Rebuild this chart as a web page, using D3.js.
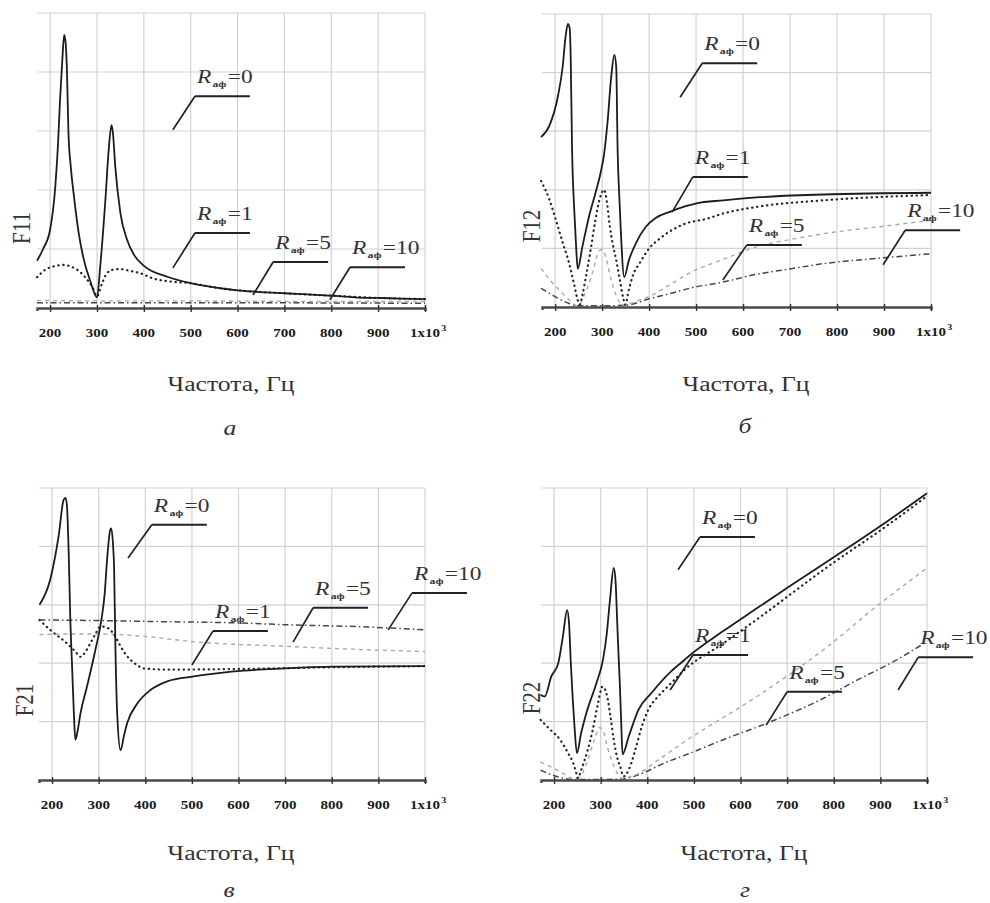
<!DOCTYPE html>
<html><head><meta charset="utf-8">
<script src="https://cdn.jsdelivr.net/npm/d3@7"></script>
<style>body{margin:0;background:#fff} svg{display:block}</style>
</head><body>
<svg id="c" width="990" height="903"></svg>
<script>
// ---------------- data ----------------
const xTicks = [200,300,400,500,600,700,800,900,1000];
const tickLabels = ["200","300","400","500","600","700","800","900","1x10"];
const yGrid = [1,2,3,4,5];
const resistances = ["0","1","5","10"];
const panelLetters = ["а","б","в","г"];
const yTitles = ["F11","F12","F21","F22"];
const xTitle = "Частота, Гц";

// F11
const f11_r0 = [[172,0.8],[185,1.0],[200,1.33],[211,2.05],[217,2.8],[221,3.5],[226,4.2],[230,4.63],[233,4.5],[236,4.0],[239,3.0],[244,2.4],[250,1.95],[261,1.27],[271,0.85],[286,0.45],[300,0.18],[307,0.71],[318,1.84],[325,2.68],[331,3.1],[334,2.97],[339,2.4],[350,1.61],[364,1.16],[379,0.9],[401,0.71],[450,0.53],[500,0.42],[550,0.35],[600,0.3],[650,0.27],[700,0.25],[750,0.23],[800,0.21],[850,0.18],[900,0.17],[950,0.16],[1000,0.15]];
const f11_r1 = [[172,0.52],[190,0.65],[210,0.71],[228,0.73],[245,0.7],[264,0.61],[280,0.47],[290,0.36],[300,0.2],[310,0.4],[321,0.59],[335,0.65],[350,0.66],[370,0.63],[392,0.59],[420,0.5],[456,0.45],[500,0.42],[550,0.35],[600,0.3],[700,0.25],[800,0.21],[900,0.17],[1000,0.15]];
const f11_r5 = [[172,0.13],[300,0.12],[500,0.12],[800,0.11],[1000,0.11]];
const f11_r10 = [[172,0.09],[500,0.09],[1000,0.08]];

// F12
const f12_r0 = [[170,2.9],[188,3.1],[206,3.6],[216,4.1],[222,4.6],[227,4.83],[231,4.75],[233,4.3],[236,2.7],[241,1.6],[245,0.97],[248,0.65],[258,1.03],[272,1.54],[286,1.95],[297,2.3],[304,2.6],[312,3.2],[319,3.9],[326,4.3],[330,4.1],[333,2.67],[337,1.8],[340,1.26],[347,0.51],[357,0.8],[372,1.09],[393,1.37],[414,1.52],[443,1.62],[478,1.72],[501,1.77],[558,1.82],[629,1.87],[771,1.92],[1000,1.95]];
const f12_r1 = [[170,2.15],[187,1.85],[201,1.5],[216,1.1],[230,0.74],[240,0.4],[248,0.12],[252,0.04],[258,0.2],[265,0.5],[275,0.95],[285,1.45],[295,1.85],[304,2.0],[310,1.8],[316,1.4],[322,1.1],[330,0.8],[338,0.45],[345,0.15],[349,0.04],[357,0.3],[366,0.55],[380,0.75],[400,1.0],[420,1.15],[440,1.27],[480,1.43],[520,1.5],[560,1.6],[630,1.71],[770,1.82],[1000,1.91]];
const f12_r5 = [[170,0.66],[190,0.45],[210,0.28],[230,0.12],[248,0.02],[262,0.2],[280,0.6],[293,0.95],[300,0.98],[308,0.85],[318,0.5],[330,0.2],[345,0.02],[360,0.06],[380,0.12],[400,0.18],[440,0.36],[486,0.58],[560,0.82],[630,1.03],[700,1.15],[771,1.25],[900,1.38],[1000,1.48]];
const f12_r10 = [[170,0.32],[195,0.2],[230,0.06],[250,0.02],[300,0.02],[350,0.03],[400,0.14],[450,0.24],[486,0.32],[560,0.43],[630,0.56],[700,0.65],[771,0.74],[900,0.84],[1000,0.91]];

// F21
const f21_r0 = [[173,3.0],[196,3.43],[214,4.17],[225,4.8],[229,4.83],[232,4.69],[236,3.8],[239,2.8],[243,1.94],[247,1.1],[250,0.69],[255,0.85],[261,1.14],[275,1.6],[293,2.23],[307,2.8],[313,3.2],[318,3.77],[325,4.29],[327,4.31],[331,4.0],[333,3.66],[336,2.23],[340,1.09],[347,0.51],[354,0.75],[361,0.97],[383,1.31],[411,1.54],[447,1.69],[501,1.77],[590,1.86],[698,1.91],[805,1.94],[1000,1.95]];
const f21_r1 = [[173,2.74],[196,2.57],[215,2.45],[232,2.34],[250,2.2],[261,2.11],[272,2.2],[282,2.34],[293,2.5],[304,2.63],[315,2.62],[325,2.57],[336,2.45],[347,2.29],[358,2.15],[368,2.06],[382,1.97],[397,1.91],[447,1.89],[590,1.9],[800,1.93],[1000,1.95]];
const f21_r5 = [[173,2.49],[250,2.5],[300,2.5],[397,2.46],[501,2.37],[698,2.29],[877,2.23],[1000,2.2]];
const f21_r10 = [[173,2.74],[300,2.73],[447,2.71],[600,2.69],[698,2.66],[877,2.62],[1000,2.57]];

// F22
const f22_r0 = [[171,1.46],[180,1.43],[194,1.77],[209,2.0],[219,2.46],[228,2.91],[232,2.7],[236,2.0],[240,1.4],[244,0.9],[249,0.46],[258,0.8],[269,1.14],[291,1.66],[305,2.06],[313,2.5],[320,3.09],[328,3.63],[332,3.4],[335,2.8],[338,2.2],[341,1.66],[344,1.0],[347,0.44],[360,0.74],[381,1.2],[409,1.49],[451,1.86],[479,2.05],[492,2.14],[563,2.55],[635,2.94],[706,3.32],[778,3.7],[850,4.08],[922,4.47],[1000,4.91]];
const f22_r1 = [[171,1.03],[192,0.86],[213,0.69],[230,0.46],[241,0.29],[248,0.11],[251,0.03],[258,0.17],[272,0.51],[283,0.86],[293,1.26],[304,1.6],[314,1.43],[321,1.09],[328,0.69],[335,0.4],[342,0.23],[349,0.06],[360,0.17],[374,0.51],[388,0.91],[402,1.2],[423,1.43],[444,1.6],[465,1.77],[479,1.88],[563,2.34],[635,2.75],[778,3.6],[922,4.4],[1000,4.86]];
const f22_r5 = [[171,0.31],[192,0.23],[220,0.11],[241,0.03],[255,0.05],[270,0.3],[285,0.65],[298,0.9],[305,0.85],[315,0.55],[328,0.25],[345,0.03],[365,0.06],[381,0.11],[423,0.34],[479,0.65],[635,1.43],[778,2.23],[896,3.0],[1000,3.63]];
const f22_r10 = [[171,0.17],[206,0.06],[241,0.01],[300,0.01],[350,0.02],[381,0.09],[437,0.29],[492,0.46],[563,0.69],[656,0.97],[778,1.4],[850,1.71],[922,2.0],[1000,2.37]];

// annotation anchors (tip, elbow) in data coordinates, one per resistance
const ann11 = [[[462,3.02],[509,3.59]],[[462,0.68],[509,1.27]],[[633,0.22],[676,0.78]],[[797,0.14],[840,0.69]]];
const ann12 = [[[466,3.58],[513,4.16]],[[449,1.62],[493,2.22]],[[557,0.46],[608,1.06]],[[898,0.72],[945,1.31]]];
const ann21 = [[[363,3.8],[414,4.37]],[[500,1.97],[545,2.55]],[[717,2.36],[760,2.95]],[[921,2.57],[972,3.2]]];
const ann22 = [[[466,3.6],[513,4.16]],[[449,1.54],[498,2.14]],[[655,0.94],[700,1.51]],[[938,1.54],[981,2.1]]];

// ---------------- layout / style ----------------
const panels = [
  {series:[f11_r0,f11_r1,f11_r5,f11_r10], ann:ann11, box:{l:37,r:425,t:13,b:308}, ylab:[30,228], title:[231,391], letter:[230,435]},
  {series:[f12_r0,f12_r1,f12_r5,f12_r10], ann:ann12, box:{l:542,r:931,t:14,b:307}, ylab:[540,226], title:[746,391], letter:[745,433]},
  {series:[f21_r0,f21_r1,f21_r5,f21_r10], ann:ann21, box:{l:39,r:425,t:488,b:780}, ylab:[33,700], title:[231,860], letter:[229,897]},
  {series:[f22_r0,f22_r1,f22_r5,f22_r10], ann:ann22, box:{l:541,r:927,t:488,b:780}, ylab:[540,698], title:[744,860], letter:[745,897]}
];
const styles = [
  {stroke:"#1c1c1c", width:1.8, dash:null, cap:"butt"},
  {stroke:"#262626", width:2.2, dash:"0.4,4.6", cap:"round"},
  {stroke:"#a8a8a8", width:1.4, dash:"4,4", cap:"butt"},
  {stroke:"#474747", width:1.5, dash:"6,3,1.5,3", cap:"butt"}
];
const SERIF = "'Liberation Serif','Times New Roman',serif";
const SX = 1.28;

const svg = d3.select("#c");
svg.append("rect").attr("width",990).attr("height",903).attr("fill","#fff");

panels.forEach((p, pi) => {
  const b = p.box;
  const x = d3.scaleLinear().domain([172,1000]).range([b.l,b.r]);
  const y = d3.scaleLinear().domain([0,5]).range([b.b,b.t]);
  const g = svg.append("g");

  // grid
  g.append("g").selectAll("line").data(xTicks).join("line")
    .attr("x1",d=>x(d)).attr("x2",d=>x(d)).attr("y1",y(0)).attr("y2",y(5))
    .attr("stroke","#d2d2d2").attr("stroke-width",1.2);
  g.append("g").selectAll("line").data(yGrid).join("line")
    .attr("x1",x.range()[0]).attr("x2",x.range()[1]).attr("y1",d=>y(d)).attr("y2",d=>y(d))
    .attr("stroke","#d2d2d2").attr("stroke-width",1.2);

  // curves (drawn back to front)
  const line = d3.line().x(d=>x(d[0])).y(d=>y(d[1])).curve(d3.curveMonotoneX);
  [3,2,1,0].forEach(si => {
    const s = styles[si];
    g.append("path").attr("d", line(p.series[si]))
      .attr("fill","none").attr("stroke",s.stroke).attr("stroke-width",s.width)
      .attr("stroke-dasharray",s.dash).attr("stroke-linecap",s.cap).attr("stroke-linejoin","round");
  });

  // x axis
  const ax = g.append("g").attr("transform",`translate(0,${y(0)})`)
    .call(d3.axisBottom(x).tickValues(xTicks).tickSizeOuter(0).tickSize(3).tickFormat(""));
  ax.select(".domain").attr("stroke","#4a4a4a").attr("stroke-width",2.4);
  ax.selectAll(".tick line").attr("y1",-3).attr("y2",4).attr("stroke","#333").attr("stroke-width",1.4);

  // tick labels
  xTicks.forEach((t, i) => {
    const tg = g.append("g").attr("transform",`translate(${x(t)},${y(0)+29}) scale(1.25,1)`);
    tg.append("text").attr("text-anchor","middle").attr("font-family",SERIF)
      .attr("font-weight","bold").attr("font-size",12).attr("fill","#1a1a1a").text(tickLabels[i]);
    if (i === xTicks.length-1) {
      tg.append("text").attr("x",13).attr("y",-6).attr("font-family",SERIF)
        .attr("font-weight","bold").attr("font-size",8).attr("fill","#1a1a1a").text("3");
    }
  });

  // y title
  g.append("text").attr("transform",`translate(${p.ylab[0]},${p.ylab[1]}) scale(1.2,1) rotate(-90)`)
    .attr("text-anchor","middle").attr("font-family",SERIF).attr("font-size",21).attr("fill","#333")
    .text(yTitles[pi]);

  // x title and panel letter
  g.append("text").attr("transform",`translate(${p.title[0]},${p.title[1]}) scale(${SX},1)`)
    .attr("text-anchor","middle").attr("font-family",SERIF).attr("font-size",20).attr("fill","#333").text(xTitle);
  g.append("text").attr("transform",`translate(${p.letter[0]},${p.letter[1]}) scale(${SX},1)`)
    .attr("text-anchor","middle").attr("font-family",SERIF).attr("font-style","italic")
    .attr("font-size",20).attr("fill","#333").text(panelLetters[pi]);

  // annotations
  p.ann.forEach((a, ai) => {
    const tx = x(a[0][0]), ty = y(a[0][1]), ex = x(a[1][0]), ey = y(a[1][1]);
    g.append("line").attr("x1",tx).attr("y1",ty).attr("x2",ex).attr("y2",ey)
      .attr("stroke","#222").attr("stroke-width",1.7);
    g.append("line").attr("x1",ex).attr("y1",ey).attr("x2",ex+55).attr("y2",ey)
      .attr("stroke","#222").attr("stroke-width",2);
    const t = g.append("text").attr("transform",`translate(${ex+2},${ey-13}) scale(1.3,1)`)
      .attr("font-family",SERIF).attr("font-size",18).attr("fill","#333");
    t.append("tspan").attr("font-style","italic").text("R");
    t.append("tspan").attr("font-size",9).attr("font-weight","bold").attr("dy",4).attr("dx",1).text("аф");
    t.append("tspan").attr("dy",-4).attr("dx",1).text("=");
    t.append("tspan").text(resistances[ai]);
  });
});
</script>
</body></html>
